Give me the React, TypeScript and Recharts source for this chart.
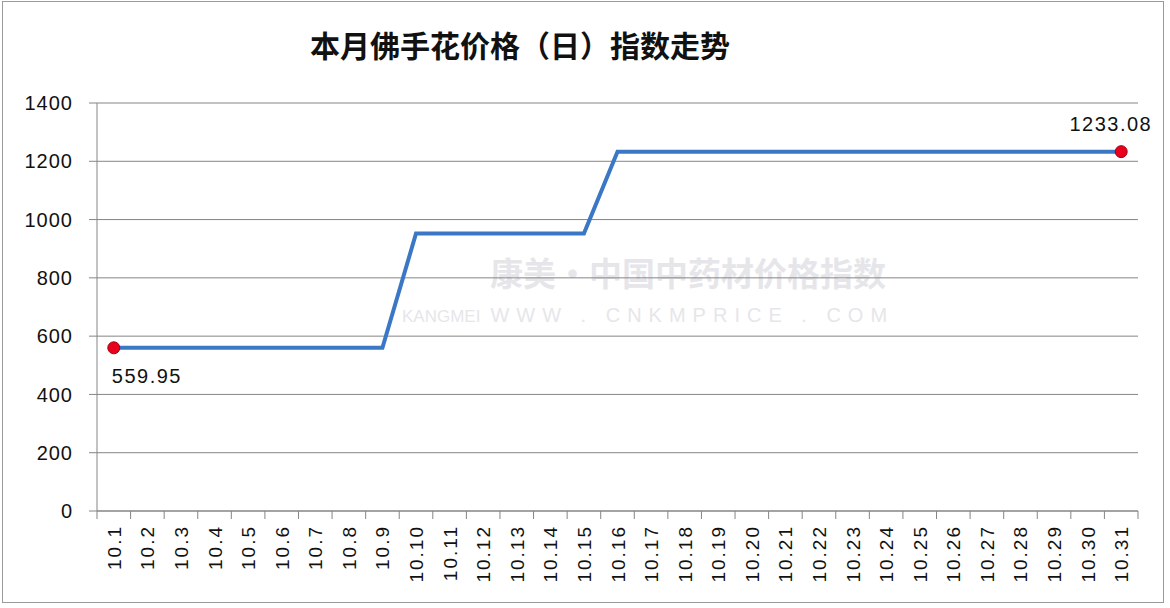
import React from 'react';
import { LineChart, Line, XAxis, YAxis, CartesianGrid, LabelList } from 'recharts';

// 日期（10月）
const dates = [
  '10.1', '10.2', '10.3', '10.4', '10.5', '10.6', '10.7', '10.8', '10.9', '10.10',
  '10.11', '10.12', '10.13', '10.14', '10.15', '10.16', '10.17', '10.18', '10.19', '10.20',
  '10.21', '10.22', '10.23', '10.24', '10.25', '10.26', '10.27', '10.28', '10.29', '10.30',
  '10.31',
];

// 佛手花价格指数
const priceIndex = [
  559.95, 559.95, 559.95, 559.95, 559.95, 559.95, 559.95, 559.95, 559.95, 952,
  952, 952, 952, 952, 952, 1233.08, 1233.08, 1233.08, 1233.08, 1233.08,
  1233.08, 1233.08, 1233.08, 1233.08, 1233.08, 1233.08, 1233.08, 1233.08, 1233.08, 1233.08,
  1233.08,
];

const yTicks = [0, 200, 400, 600, 800, 1000, 1200, 1400];

const chartData = dates.map((d, i) => ({ date: d, value: priceIndex[i] }));

const W = 1170;
const H = 608;
const MARGIN = { top: 103, right: 32, bottom: 0, left: 0 };
const Y_AXIS_W = 97;
const PLOT_W = W - MARGIN.left - MARGIN.right - Y_AXIS_W;
const BAND = PLOT_W / dates.length;
const AXIS_GRAY = '#858585';
const FONT = '"Liberation Sans", Arial, sans-serif';
const WM = '#e6e6ea';

const lastIdx = dates.length - 1;

const DateTick = (props: any) => {
  const { x, y, payload, index } = props;
  return (
    <g>
      <line x1={x - BAND / 2} y1={y} x2={x - BAND / 2} y2={y + 8} stroke={AXIS_GRAY} strokeWidth={1} />
      {index === lastIdx && (
        <line x1={x + BAND / 2} y1={y} x2={x + BAND / 2} y2={y + 8} stroke={AXIS_GRAY} strokeWidth={1} />
      )}
      <text
        x={0}
        y={0}
        transform={`translate(${x + 7},${y + 14}) rotate(-90)`}
        textAnchor="end"
        fontSize={19}
        letterSpacing={2}
        fill="#111"
        fontFamily={FONT}
      >
        {payload.value}
      </text>
    </g>
  );
};

const EndDot = (props: any) => {
  const { cx, cy, index } = props;
  if (index !== 0 && index !== lastIdx) return <g key={index} />;
  return <circle key={index} cx={cx} cy={cy} r={6} fill="#e8001c" stroke="#a00010" strokeWidth={1} />;
};

const EndLabel = (props: any) => {
  const { x, y, value, index } = props;
  if (index === 0) {
    return (
      <text x={x - 2} y={y + 35} fontSize={20} letterSpacing={1.5} fill="#111" fontFamily={FONT}>
        {value}
      </text>
    );
  }
  if (index === lastIdx) {
    return (
      <text x={x + 31} y={y - 21} textAnchor="end" fontSize={20} letterSpacing={1.5} fill="#111" fontFamily={FONT}>
        {value}
      </text>
    );
  }
  return null;
};

export default function App() {
  return (
    <div style={{ position: 'absolute', left: 0, top: 0, width: W, height: H, background: '#fff' }}>
      <div
        style={{
          position: 'absolute',
          left: 2,
          top: 1,
          width: 1162,
          height: 602,
          border: '1px solid #9a9a9a',
          boxSizing: 'border-box',
        }}
      />
      <div
        style={{
          position: 'absolute',
          left: 0,
          top: 22,
          width: 1040,
          textAlign: 'center',
          fontFamily: '"Noto Sans CJK SC", sans-serif',
          fontWeight: 700,
          fontSize: 30,
          lineHeight: '44px',
          color: '#111',
        }}
      >
        本月佛手花价格（日）指数走势
      </div>
      {/* watermark */}
      <div
        style={{
          position: 'absolute',
          left: 490,
          top: 248,
          fontFamily: '"Noto Sans CJK SC", sans-serif',
          fontWeight: 700,
          fontSize: 33,
          letterSpacing: 0,
          color: WM,
          whiteSpace: 'nowrap',
        }}
      >
        康美·中国中药材价格指数
      </div>
      <div
        style={{
          position: 'absolute',
          left: 402,
          top: 304,
          fontFamily: FONT,
          color: WM,
          whiteSpace: 'nowrap',
        }}
      >
        <span style={{ fontSize: 17, marginRight: 10 }}>KANGMEI</span>
        <span style={{ fontSize: 20, letterSpacing: 7 }}>WWW . CNKMPRICE . COM</span>
      </div>
      <div style={{ position: 'absolute', left: 0, top: 0 }}>
        <LineChart width={W} height={H} data={chartData} margin={MARGIN}>
          <CartesianGrid vertical={false} stroke={AXIS_GRAY} strokeWidth={1} />
          <XAxis
            dataKey="date"
            scale="band"
            interval={0}
            height={97}
            tickLine={false}
            tickSize={0}
            tickMargin={0}
            axisLine={{ stroke: AXIS_GRAY, strokeWidth: 1 }}
            tick={<DateTick />}
          />
          <YAxis
            width={Y_AXIS_W}
            domain={[0, 1400]}
            ticks={yTicks}
            interval={0}
            tickSize={8}
            tickMargin={16}
            tickLine={{ stroke: AXIS_GRAY }}
            axisLine={{ stroke: AXIS_GRAY, strokeWidth: 1 }}
            tick={{ fontSize: 20, fill: '#111', fontFamily: FONT, letterSpacing: 1 }}
          />
          <Line
            type="linear"
            dataKey="value"
            stroke="#3a78c6"
            strokeWidth={4}
            dot={<EndDot />}
            activeDot={false}
            isAnimationActive={false}
          >
            <LabelList dataKey="value" content={<EndLabel />} />
          </Line>
        </LineChart>
      </div>
    </div>
  );
}
